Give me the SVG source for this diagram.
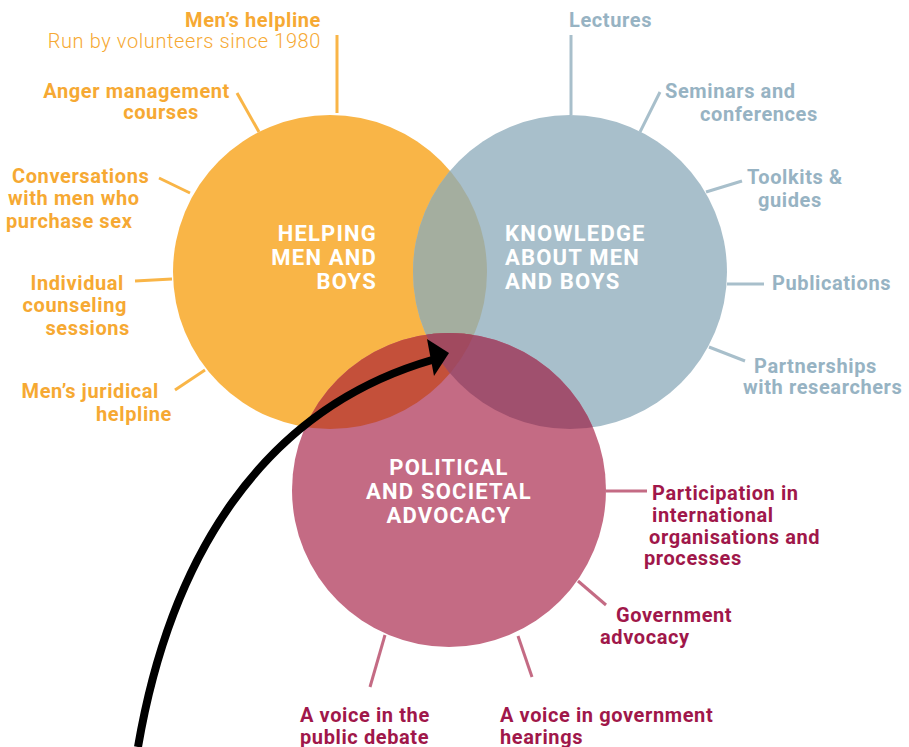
<svg xmlns="http://www.w3.org/2000/svg" width="909" height="747" viewBox="0 0 909 747">
<style>
text{font-family:Roboto,"Liberation Sans",sans-serif;font-weight:700;font-size:20px;letter-spacing:0.6px}
.o{fill:#F6A933}.b{fill:#97B3C3}.p{fill:#A0174A}
.w{fill:#fff;font-size:22px;letter-spacing:1.2px}
.lo{stroke:#F9B547;stroke-width:3}.lb{stroke:#A8BFCB;stroke-width:3}.lp{stroke:#C46B84;stroke-width:3}
.e{text-anchor:end}.m{text-anchor:middle}
</style>
<defs>
<clipPath id="cO"><circle cx="330" cy="272" r="157"/></clipPath>
<clipPath id="cB"><circle cx="570" cy="272" r="157"/></clipPath>
</defs>
<g id="circles">
<circle id="helping" cx="330" cy="272" r="157" fill="#F9B547"/>
<circle id="knowledge" cx="570" cy="272" r="157" fill="#A8BFCB"/>
<circle id="advocacy" cx="449" cy="490" r="157" fill="#C46B84"/>
<circle cx="570" cy="272" r="157" fill="#A4AE9F" clip-path="url(#cO)"/>
<circle cx="449" cy="490" r="157" fill="#C4503A" clip-path="url(#cO)"/>
<circle cx="449" cy="490" r="157" fill="#A0506E" clip-path="url(#cB)"/>
<g clip-path="url(#cO)"><circle cx="449" cy="490" r="157" fill="#A14A5F" clip-path="url(#cB)"/></g>
</g>
<g id="connectors">
<line class="lo" x1="337" y1="35" x2="337" y2="113"/>
<line class="lo" x1="237" y1="93" x2="259" y2="132"/>
<line class="lo" x1="159" y1="178" x2="190" y2="193"/>
<line class="lo" x1="135" y1="281" x2="172" y2="279"/>
<line class="lo" x1="175" y1="390" x2="205" y2="370"/>
<line class="lb" x1="571" y1="35" x2="571" y2="115"/>
<line class="lb" x1="660" y1="92" x2="640" y2="132"/>
<line class="lb" x1="742" y1="181" x2="706" y2="192"/>
<line class="lb" x1="727" y1="284" x2="764" y2="284"/>
<line class="lb" x1="709" y1="347" x2="745" y2="361"/>
<line class="lp" x1="606" y1="491" x2="647" y2="491"/>
<line class="lp" x1="578" y1="581" x2="606" y2="605"/>
<line class="lp" x1="385" y1="635" x2="370" y2="687"/>
<line class="lp" x1="518" y1="636" x2="532" y2="677"/>
<path d="M138,747 C170,560 260,410 432,360" fill="none" stroke="#000" stroke-width="8"/>
<polygon points="427,339 449,353 434,376" fill="#000"/>
</g>
<g id="n-helping"><text class="w e" x="377" y="241">HELPING</text><text class="w e" x="377" y="265">MEN AND</text><text class="w e" x="377" y="289">BOYS</text></g>
<g id="n-knowledge"><text class="w" x="505" y="241">KNOWLEDGE</text><text class="w" x="505" y="265">ABOUT MEN</text><text class="w" x="505" y="289">AND BOYS</text></g>
<g id="n-advocacy"><text class="w m" x="449" y="475">POLITICAL</text><text class="w m" x="449" y="499">AND SOCIETAL</text><text class="w m" x="449" y="523">ADVOCACY</text></g>
<g id="l-helpline"><text class="o e" x="321" y="27">Men’s helpline</text><text class="o e" x="321" y="48" style="font-weight:300">Run by volunteers since 1980</text></g>
<g id="l-anger"><text class="o e" x="230" y="98">Anger management</text><text class="o e" x="199" y="119">courses</text></g>
<g id="l-conv"><text class="o" x="12" y="183">Conversations</text><text class="o" x="8" y="205">with men who</text><text class="o" x="6" y="228">purchase sex</text></g>
<g id="l-indiv"><text class="o e" x="124" y="290">Individual</text><text class="o e" x="127" y="312">counseling</text><text class="o e" x="130" y="335">sessions</text></g>
<g id="l-jur"><text class="o e" x="159" y="398">Men’s juridical</text><text class="o e" x="172" y="421">helpline</text></g>
<g id="l-lect"><text class="b" x="569" y="27">Lectures</text></g>
<g id="l-sem"><text class="b" x="665" y="98">Seminars and</text><text class="b" x="700" y="121">conferences</text></g>
<g id="l-tool"><text class="b" x="747" y="184">Toolkits &amp;</text><text class="b" x="758" y="207">guides</text></g>
<g id="l-pub"><text class="b" x="772" y="290">Publications</text></g>
<g id="l-part"><text class="b" x="754" y="373">Partnerships</text><text class="b" x="743" y="394">with researchers</text></g>
<g id="l-intl"><text class="p" x="652" y="500">Participation in</text><text class="p" x="652" y="522">international</text><text class="p" x="649" y="544">organisations and</text><text class="p" x="644" y="565">processes</text></g>
<g id="l-gov"><text class="p" x="616" y="622">Government</text><text class="p" x="600" y="644">advocacy</text></g>
<g id="l-debate"><text class="p" x="300" y="722">A voice in the</text><text class="p" x="300" y="744">public debate</text></g>
<g id="l-hear"><text class="p" x="500" y="722">A voice in government</text><text class="p" x="500" y="744">hearings</text></g>
</svg>
